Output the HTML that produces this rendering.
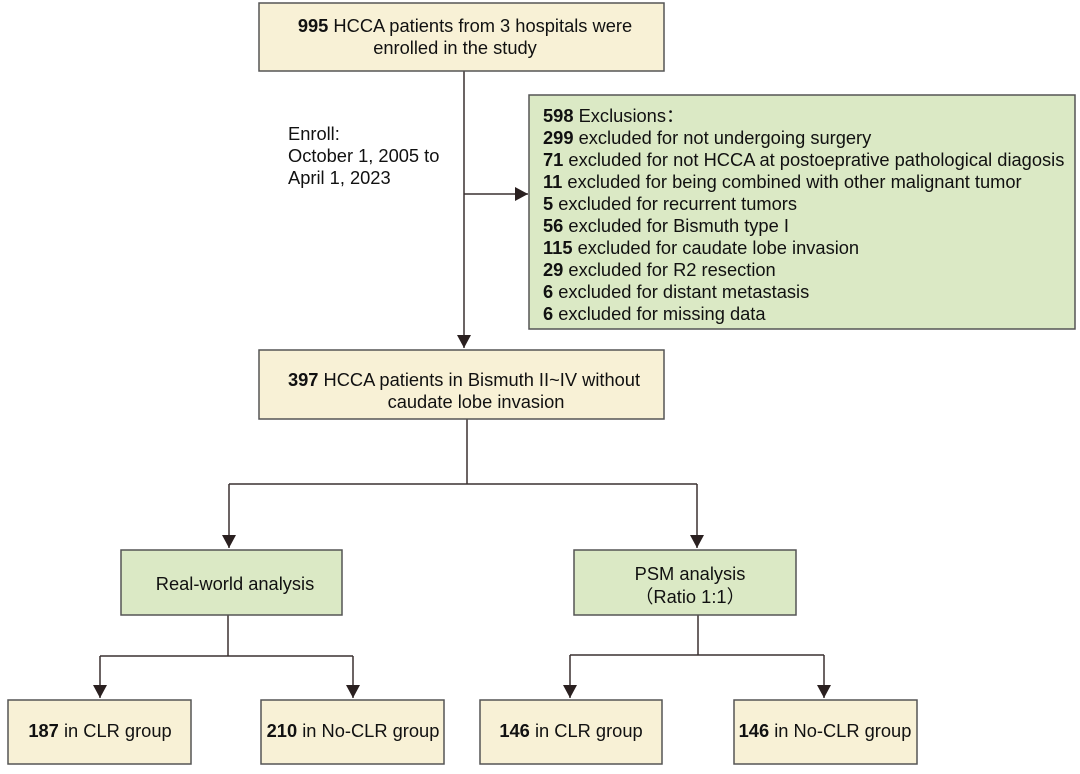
<!DOCTYPE html>
<html><head><meta charset="utf-8"><style>
html,body{margin:0;padding:0;background:#fff;}
svg text{font-family:"Liberation Sans",Arial,sans-serif;font-size:18.3px;fill:#111;}
</style></head><body>
<svg width="1080" height="769" viewBox="0 0 1080 769" xmlns="http://www.w3.org/2000/svg">
<defs>
<marker id="b" markerWidth="14" markerHeight="14" refX="13" refY="7" orient="auto" markerUnits="userSpaceOnUse"><path d="M0,0 L13,7 L0,14 z" fill="#2a2020"/></marker></defs>
<g stroke="#3a3030" stroke-width="1.5" fill="none">
<line x1="464" y1="71" x2="464" y2="348" marker-end="url(#b)"/>
<line x1="464" y1="194" x2="528" y2="194" marker-end="url(#b)"/>
<polyline points="467,419 467,484"/>
<polyline points="229,484 697,484"/>
<line x1="229" y1="484" x2="229" y2="548" marker-end="url(#b)"/>
<line x1="697" y1="484" x2="697" y2="548" marker-end="url(#b)"/>
<polyline points="228,615 228,656"/>
<polyline points="100,656 353,656"/>
<line x1="100" y1="656" x2="100" y2="698" marker-end="url(#b)"/>
<line x1="353" y1="656" x2="353" y2="698" marker-end="url(#b)"/>
<polyline points="698,615 698,655"/>
<polyline points="570,655 824,655"/>
<line x1="570" y1="655" x2="570" y2="698" marker-end="url(#b)"/>
<line x1="824" y1="655" x2="824" y2="698" marker-end="url(#b)"/>
</g>
<g stroke="#555" stroke-width="1.5">
<rect x="259" y="3" width="405" height="68" fill="#f8f1d6"/>
<rect x="529" y="95" width="546" height="234" fill="#dbe9c5"/>
<rect x="259" y="350" width="405" height="69" fill="#f8f1d6"/>
<rect x="121" y="550" width="221" height="65" fill="#dbe9c5"/>
<rect x="574" y="550" width="222" height="65" fill="#dbe9c5"/>
<rect x="8" y="700" width="183" height="64" fill="#f8f1d6"/>
<rect x="261" y="700" width="183" height="64" fill="#f8f1d6"/>
<rect x="480" y="700" width="182" height="64" fill="#f8f1d6"/>
<rect x="734" y="700" width="183" height="64" fill="#f8f1d6"/>
</g>
<text x="465" y="32" text-anchor="middle"><tspan font-weight="bold">995</tspan> HCCA patients from 3 hospitals were</text>
<text x="455" y="54" text-anchor="middle">enrolled in the study</text>
<text x="288" y="140">Enroll:</text>
<text x="288" y="162">October 1, 2005 to</text>
<text x="288" y="184">April 1, 2023</text>
<g>
<text x="543" y="122"><tspan font-weight="bold">598</tspan> Exclusions：</text>
<text x="543" y="144"><tspan font-weight="bold">299</tspan> excluded for not undergoing surgery</text>
<text x="543" y="166"><tspan font-weight="bold">71</tspan> excluded for not HCCA at postoeprative pathological diagosis</text>
<text x="543" y="188"><tspan font-weight="bold">11</tspan> excluded for being combined with other malignant tumor</text>
<text x="543" y="210"><tspan font-weight="bold">5</tspan> excluded for recurrent tumors</text>
<text x="543" y="232"><tspan font-weight="bold">56</tspan> excluded for Bismuth type I</text>
<text x="543" y="254"><tspan font-weight="bold">115</tspan> excluded for caudate lobe invasion</text>
<text x="543" y="276"><tspan font-weight="bold">29</tspan> excluded for R2 resection</text>
<text x="543" y="298"><tspan font-weight="bold">6</tspan> excluded for distant metastasis</text>
<text x="543" y="320"><tspan font-weight="bold">6</tspan> excluded for missing data</text>
</g>
<text x="464" y="386" text-anchor="middle"><tspan font-weight="bold">397</tspan> HCCA patients in Bismuth II~IV without</text>
<text x="476" y="408" text-anchor="middle">caudate lobe invasion</text>
<text x="235" y="590" text-anchor="middle">Real-world analysis</text>
<text x="690" y="580" text-anchor="middle">PSM analysis</text>
<text x="690" y="603" text-anchor="middle">（Ratio 1:1）</text>
<text x="100" y="737" text-anchor="middle"><tspan font-weight="bold">187</tspan> in CLR group</text>
<text x="353" y="737" text-anchor="middle"><tspan font-weight="bold">210</tspan> in No-CLR group</text>
<text x="571" y="737" text-anchor="middle"><tspan font-weight="bold">146</tspan> in CLR group</text>
<text x="825" y="737" text-anchor="middle"><tspan font-weight="bold">146</tspan> in No-CLR group</text>
</svg>
</body></html>
